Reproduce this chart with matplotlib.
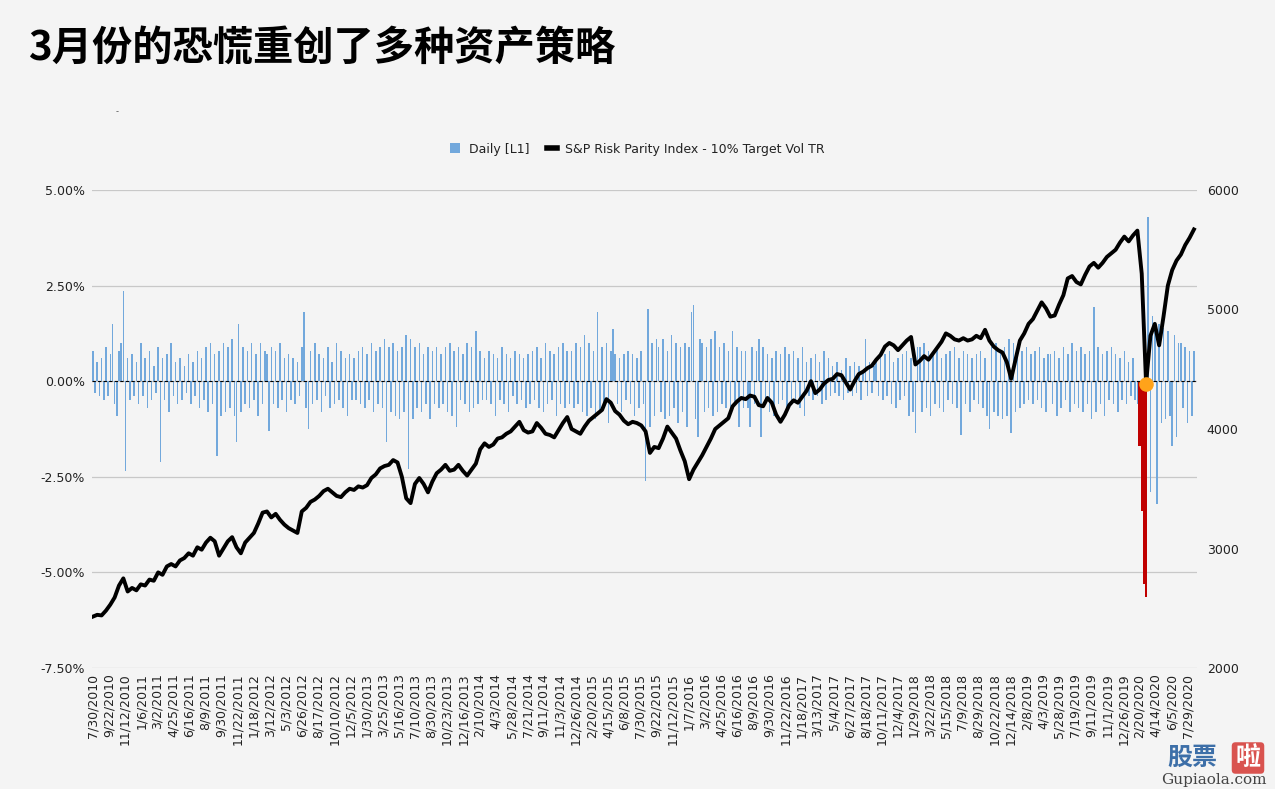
import numpy as np
import matplotlib
matplotlib.use('Agg')
import matplotlib.pyplot as plt
from matplotlib.patches import Patch
from matplotlib.lines import Line2D

plt.rcParams['font.family'] = ['DejaVu Sans', 'Noto Sans CJK SC']

TITLE = '3月份的恐慌重创了多种资产策略'
BAR_LABEL = 'Daily [L1]'
LINE_LABEL = 'S&P Risk Parity Index - 10% Target Vol TR'

# category axis = business days since 7/30/2010, a label every 37 days
tick_labels = [
    '7/30/2010', '9/22/2010', '11/12/2010', '1/6/2011', '3/2/2011', '4/25/2011',
    '6/16/2011', '8/9/2011', '9/30/2011', '11/22/2011', '1/18/2012', '3/12/2012',
    '5/3/2012', '6/26/2012', '8/17/2012', '10/10/2012', '12/5/2012', '1/30/2013',
    '3/25/2013', '5/16/2013', '7/10/2013', '8/30/2013', '10/23/2013', '12/16/2013',
    '2/10/2014', '4/3/2014', '5/28/2014', '7/21/2014', '9/11/2014', '11/3/2014',
    '12/26/2014', '2/20/2015', '4/15/2015', '6/8/2015', '7/30/2015', '9/22/2015',
    '11/12/2015', '1/7/2016', '3/2/2016', '4/25/2016', '6/16/2016', '8/9/2016',
    '9/30/2016', '11/22/2016', '1/18/2017', '3/13/2017', '5/4/2017', '6/27/2017',
    '8/18/2017', '10/11/2017', '12/4/2017', '1/29/2018', '3/22/2018', '5/15/2018',
    '7/9/2018', '8/29/2018', '10/22/2018', '12/14/2018', '2/8/2019', '4/3/2019',
    '5/28/2019', '7/19/2019', '9/11/2019', '11/1/2019', '12/26/2019', '2/20/2020',
    '4/14/2020', '6/5/2020', '7/29/2020',
]
TICK_STEP = 37   # business days between labels
BAR_STEP = 5     # one bar per week
LINE_STEP = 10   # one index level every two weeks

# daily return in %, one value per week
daily_pct = [
    0.8, -0.3, 0.5, -0.4, 0.6, -0.5, 0.9, -0.4, 0.7, 1.5, -0.6, -0.9, 0.8, 1.0, 2.35, -2.35, 0.6, -0.5, 0.7, -0.4,
    0.5, -0.6, 1.0, -0.4, 0.6, -0.7, 0.8, -0.5, 0.4, -0.3, 0.9, -2.1, 0.6, -0.5, 0.7, -0.8, 1.0, -0.4, 0.5, -0.6,
    0.6, -0.5, 0.4, -0.3, 0.7, -0.6, 0.5, -0.4, 0.8, -0.7, 0.6, -0.5, 0.9, -0.8, 1.0, -0.6, 0.7, -1.95, 0.8, -0.9,
    1.0, -0.8, 0.9, -0.7, 1.1, -0.9, -1.6, 1.5, -0.8, 0.9, -0.6, 0.8, -0.7, 1.0, -0.5, 0.7, -0.9, 1.0, -0.6, 0.8,
    0.7, -1.3, 0.9, -0.6, 0.8, -0.7, 1.0, -0.5, 0.6, -0.8, 0.7, -0.5, 0.6, -0.6, 0.5, -0.4, 0.9, 1.8, -0.7, -1.25,
    0.8, -0.6, 1.0, -0.5, 0.7, -0.8, 0.6, -0.4, 0.9, -0.7, 0.5, -0.6, 1.0, -0.5, 0.8, -0.7, 0.6, -0.9, 0.7, -0.5,
    0.6, -0.5, 0.8, -0.6, 0.9, -0.7, 0.7, -0.5, 1.0, -0.8, 0.8, -0.6, 0.9, -0.7, 1.1, -1.6, 0.9, -0.8, 1.0, -0.9,
    0.8, -1.0, 0.9, -0.8, 1.2, -2.3, 1.1, -1.0, 0.9, -0.7, 1.0, -0.8, 0.7, -0.6, 0.9, -1.0, 0.8, -0.6, 0.9, -0.7,
    0.7, -0.6, 0.9, -0.8, 1.0, -0.9, 0.8, -1.2, 0.9, -0.5, 0.7, -0.6, 1.0, -0.8, 0.9, -0.7, 1.3, -0.6, 0.8, -0.5,
    0.6, -0.5, 0.8, -0.6, 0.7, -0.9, 0.6, -0.5, 0.9, -0.6, 0.7, -0.8, 0.6, -0.4, 0.8, -0.6, 0.7, -0.5, 0.6, -0.7,
    0.7, -0.6, 0.8, -0.5, 0.9, -0.7, 0.6, -0.8, 1.0, -0.6, 0.8, -0.5, 0.7, -0.9, 0.9, -0.6, 1.0, -0.7, 0.8, -0.6,
    0.8, -0.7, 1.0, -0.6, 0.9, -0.8, 1.2, -0.9, 1.0, -0.7, 0.8, -1.0, 1.8, -0.8, 0.9, -0.7, 1.0, -1.1, 0.8, 1.36,
    0.7, -0.6, 0.6, -0.8, 0.7, -0.5, 0.8, -0.6, 0.7, -0.9, 0.6, -0.7, 0.8, -0.6, -2.6, 1.9, -1.2, 1.0, -0.9, 1.1,
    0.9, -0.8, 1.1, -1.0, 0.8, -0.9, 1.2, -0.7, 1.0, -1.1, 0.9, -0.8, 1.0, -1.2, 0.9, 1.8, 2.0, -1.0, -1.45, 1.1,
    1.0, -0.8, 0.9, -0.7, 1.1, -0.9, 1.3, -0.8, 0.9, -0.6, 1.0, -0.7, 0.8, -0.9, 1.3, -0.6, 0.9, -1.2, 0.8, -0.7,
    0.8, -0.7, -1.2, 0.9, -0.6, 0.8, 1.1, -1.45, 0.9, -0.6, 0.7, -0.8, 0.6, -0.9, 0.8, -0.6, 0.7, -0.5, 0.9, -0.7,
    0.7, -0.6, 0.8, -0.5, 0.6, -0.7, 0.9, -0.9, 0.5, -0.4, 0.6, -0.5, 0.7, -0.4, 0.5, -0.6, 0.8, -0.5, 0.6, -0.4,
    0.4, -0.3, 0.5, -0.4, 0.3, -0.5, 0.6, -0.3, 0.4, -0.4, 0.5, -0.3, 0.4, -0.5, 0.3, 1.1, -0.4, 0.5, -0.3, 0.4,
    0.5, -0.4, 0.6, -0.5, 0.7, -0.4, 0.8, -0.6, 0.5, -0.7, 0.6, -0.5, 0.7, -0.4, 0.8, -0.9, 0.6, -0.8, -1.35, 0.9,
    0.9, -0.8, 1.0, -0.7, 0.8, -0.9, 0.7, -0.6, 0.9, -0.7, 0.6, -0.8, 0.7, -0.5, 0.8, -0.6, 0.9, -0.7, 0.6, -1.4,
    0.8, -0.6, 0.7, -0.8, 0.6, -0.5, 0.7, -0.6, 0.8, -0.7, 0.6, -0.9, -1.25, 0.9, -0.8, 1.0, -0.9, 0.8, -1.0, 0.9,
    -0.9, 1.1, -1.35, 1.0, -0.8, 0.9, -0.7, 0.8, -0.6, 0.9, -0.5, 0.7, -0.6, 0.8, -0.5, 0.9, -0.7, 0.6, -0.8, 0.7,
    0.7, -0.6, 0.8, -0.9, 0.6, -0.7, 0.9, -0.5, 0.7, -0.8, 1.0, -0.6, 0.8, -0.7, 0.9, -0.8, 0.7, -0.6, 0.8, -1.0,
    1.95, -0.8, 0.9, -0.6, 0.7, -0.9, 0.8, -0.5, 0.9, -0.6, 0.7, -0.8, 0.6, -0.5, 0.8, -0.6, 0.5, -0.4, 0.6, -0.5,
    -0.6, -1.7, -3.4, -5.3, -5.65, 4.3, -2.9, 1.7, 1.4, -3.2, 1.5, -1.1, 1.4, -1.0, 1.3, -0.9, -1.7, 1.2, -1.45, 1.0,
    1.0, -0.7, 0.9, -1.1, 0.8, -0.9, 0.8,
]

# index level, one value every 10 business days
index_level = [
    2430, 2445, 2440, 2480, 2530, 2590, 2690, 2750, 2640, 2670,
    2650, 2700, 2690, 2740, 2730, 2800, 2780, 2850, 2870, 2850,
    2900, 2920, 2960, 2940, 3010, 2990, 3050, 3090, 3060, 2940,
    3000, 3060, 3095, 3010, 2960, 3050, 3090, 3130, 3210, 3300,
    3310, 3260, 3290, 3240, 3200, 3170, 3150, 3130, 3310, 3340,
    3390, 3410, 3440, 3480, 3500, 3470, 3440, 3430, 3470, 3500,
    3490, 3520, 3510, 3530, 3590, 3620, 3670, 3690, 3700, 3740,
    3720, 3600, 3420, 3380, 3540, 3590, 3540, 3470, 3560, 3630,
    3660, 3700, 3650, 3660, 3700, 3650, 3610, 3660, 3710, 3830,
    3880, 3850, 3870, 3920, 3930, 3960, 3980, 4020, 4060, 3990,
    3970, 3980, 4050, 4010, 3960, 3950, 3930, 3990, 4050, 4100,
    4000, 3980, 3960, 4020, 4070, 4100, 4130, 4160, 4250, 4220,
    4150, 4120, 4070, 4040, 4060, 4050, 4030, 3980, 3800, 3850,
    3840, 3920, 4020, 3970, 3920, 3820, 3730, 3580, 3660, 3720,
    3780, 3850, 3920, 4000, 4030, 4060, 4090, 4190, 4230, 4260,
    4250, 4280, 4270, 4200, 4190, 4260, 4220, 4120, 4060, 4120,
    4200, 4240, 4220, 4270, 4320, 4400, 4300, 4330, 4380, 4410,
    4420, 4460, 4450, 4390, 4330, 4400, 4460, 4480, 4510, 4530,
    4580, 4620, 4690, 4720, 4700, 4660, 4700, 4740, 4770, 4540,
    4570, 4610, 4580, 4630, 4680, 4730, 4800, 4780, 4750, 4740,
    4760, 4740, 4750, 4780, 4760, 4830, 4740, 4690, 4660, 4640,
    4560, 4420, 4580, 4740, 4800, 4880, 4920, 4990, 5060, 5010,
    4940, 4950, 5040, 5120, 5260, 5280, 5230, 5210, 5290, 5360,
    5390, 5350, 5390, 5440, 5470, 5500, 5560, 5610, 5570, 5620,
    5660, 5300, 4380, 4780, 4880, 4700, 4940, 5200, 5330, 5410,
    5460, 5540, 5600, 5670,
]

# March 2020 sell-off, bars drawn in red
CRASH_START, CRASH_END = 2403, 2422

BLUE = '#72a8dc'
RED = '#c00000'
BG = '#f4f4f4'

fig = plt.figure(figsize=(12.75, 7.89), dpi=100, facecolor=BG)
ax = fig.add_axes([92 / 1275, 1 - 668 / 789, (1197 - 92) / 1275, (668 - 190) / 789])
ax.set_facecolor(BG)

x_bar = np.arange(len(daily_pct)) * BAR_STEP
vals = np.array(daily_pct)
red = (x_bar >= CRASH_START) & (x_bar <= CRASH_END) & (vals < 0)
ax.bar(x_bar[~red], vals[~red], width=BAR_STEP * 0.7, color=BLUE, linewidth=0, zorder=2)
ax.bar(x_bar[red], vals[red], width=BAR_STEP, color=RED, linewidth=0, zorder=2)
ax.axhline(0, color='black', lw=0.8, ls=(0, (3, 2)), zorder=3)

ax.set_ylim(-7.5, 5)
ax.set_xlim(-2, 2537)
yt = [-7.5, -5, -2.5, 0, 2.5, 5]
ax.set_yticks(yt)
ax.set_yticklabels([f'{v:.2f}%' for v in yt])
ax.yaxis.grid(True, color='#c8c8c8', lw=0.9)
ax.set_axisbelow(True)
ax.set_xticks(np.arange(len(tick_labels)) * TICK_STEP)
ax.set_xticklabels(tick_labels, rotation=90)
ax.tick_params(axis='x', length=0, pad=4, labelsize=9, colors='#222222')
ax.tick_params(axis='y', length=0, pad=5, labelsize=9, colors='#222222')
for s in ax.spines.values():
    s.set_visible(False)

ax2 = ax.twinx()
x_line = np.arange(len(index_level)) * LINE_STEP
ax2.plot(x_line, index_level, color='black', lw=2.8, zorder=3)
# orange marker at the 2020 low of the index
i0 = CRASH_START // LINE_STEP
k = i0 + int(np.argmin(index_level[i0:]))
ax2.scatter(x_line[k], index_level[k], s=110, color='#ffa31a', zorder=5, linewidths=0)
ax2.set_ylim(2000, 6000)
ax2.set_yticks([2000, 3000, 4000, 5000, 6000])
ax2.tick_params(axis='y', length=0, pad=7, labelsize=9, colors='#222222')
for s in ax2.spines.values():
    s.set_visible(False)

fig.text(28 / 1275, 1 - 48 / 789, TITLE, fontsize=29, fontweight='bold',
         family=['Noto Sans CJK SC', 'DejaVu Sans'], va='center', ha='left')
fig.text(117 / 1275, 1 - 112 / 789, '-', fontsize=6, color='#555555', ha='center', va='center')

handles = [Patch(facecolor=BLUE, edgecolor='none'),
           Line2D([], [], color='black', lw=4)]
fig.legend(handles, [BAR_LABEL, LINE_LABEL], loc='center', bbox_to_anchor=(0.5, 1 - 149 / 789),
           ncol=2, frameon=False, fontsize=9, handlelength=0.8, handleheight=0.8,
           columnspacing=1.4, handletextpad=0.7, labelcolor='#222222')

# site watermark in the bottom-right corner, kept below the date labels
fig.text(1192 / 1275, 1 - 758 / 789, '股票', fontsize=18, fontweight='bold', color='#3d6fa8',
         family=['Noto Sans CJK SC'], ha='center', va='center')
fig.text(1248 / 1275, 1 - 758 / 789, '啦', fontsize=18, fontweight='bold', color='white',
         family=['Noto Sans CJK SC'], ha='center', va='center',
         bbox=dict(facecolor='#d9534f', edgecolor='none', boxstyle='round,pad=0.15'))
fig.text(1214 / 1275, 1 - 780 / 789, 'Gupiaola.com', fontsize=11, color='#444444',
         family=['DejaVu Serif'], ha='center', va='center')

fig.savefig('out.png', dpi=100, facecolor=BG)
